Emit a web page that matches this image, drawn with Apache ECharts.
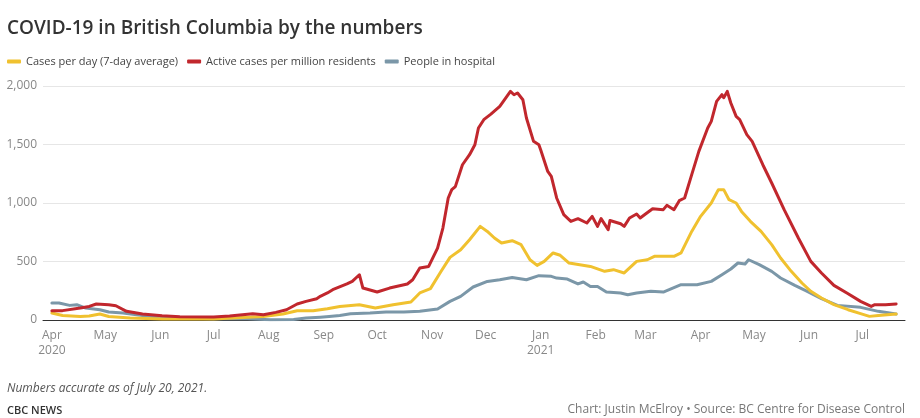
<!DOCTYPE html>
<html>
<head>
<meta charset="utf-8">
<script src="https://cdn.jsdelivr.net/npm/echarts@6/dist/echarts.min.js"></script>
<style>
html,body{margin:0;padding:0;background:#fff;}
#chart{width:920px;height:418px;}
</style>
</head>
<body>
<div id="chart"></div>
<script>
// ---- Data ----
const casesDates = ['2020-04-01','2020-04-07','2020-04-17','2020-04-22','2020-04-28','2020-05-03','2020-05-15','2020-06-02','2020-07-01','2020-07-17','2020-07-29','2020-08-09','2020-08-17','2020-08-26','2020-08-30','2020-09-03','2020-09-10','2020-09-21','2020-09-30','2020-10-10','2020-10-20','2020-10-25','2020-10-31','2020-11-06','2020-11-11','2020-11-17','2020-11-22','2020-11-28','2020-12-02','2020-12-06','2020-12-10','2020-12-16','2020-12-21','2020-12-26','2020-12-30','2021-01-03','2021-01-08','2021-01-12','2021-01-17','2021-01-23','2021-01-29','2021-02-06','2021-02-11','2021-02-17','2021-02-24','2021-03-02','2021-03-06','2021-03-17','2021-03-21','2021-03-27','2021-04-01','2021-04-07','2021-04-11','2021-04-14','2021-04-17','2021-04-21','2021-04-24','2021-04-29','2021-05-05','2021-05-11','2021-05-16','2021-05-22','2021-05-28','2021-06-02','2021-06-08','2021-06-15','2021-06-23','2021-06-30','2021-07-05','2021-07-10','2021-07-20'];
const casesValues = [60,39,30,34,51,30,17,8,8,22,30,51,79,79,88,97,116,131,102,131,154,231,268,416,535,601,686,800,757,701,658,678,644,515,467,501,573,553,487,473,458,416,430,402,501,515,544,544,573,757,886,1000,1114,1114,1028,1000,928,843,757,644,530,416,316,245,188,131,88,54,31,39,51];

const activeDates = ['2020-04-01','2020-04-07','2020-04-17','2020-04-22','2020-04-26','2020-05-03','2020-05-07','2020-05-13','2020-05-22','2020-06-02','2020-06-12','2020-07-01','2020-07-10','2020-07-23','2020-07-29','2020-08-05','2020-08-11','2020-08-17','2020-08-22','2020-08-28','2020-08-30','2020-09-03','2020-09-06','2020-09-14','2020-09-17','2020-09-21','2020-09-23','2020-10-01','2020-10-08','2020-10-18','2020-10-21','2020-10-25','2020-10-30','2020-11-04','2020-11-07','2020-11-10','2020-11-12','2020-11-14','2020-11-18','2020-11-22','2020-11-25','2020-11-27','2020-11-30','2020-12-04','2020-12-09','2020-12-13','2020-12-15','2020-12-17','2020-12-19','2020-12-22','2020-12-24','2020-12-28','2020-12-31','2021-01-01','2021-01-05','2021-01-07','2021-01-10','2021-01-14','2021-01-18','2021-01-22','2021-01-27','2021-01-30','2021-02-02','2021-02-04','2021-02-08','2021-02-09','2021-02-15','2021-02-17','2021-02-20','2021-02-24','2021-02-26','2021-03-01','2021-03-05','2021-03-11','2021-03-13','2021-03-17','2021-03-20','2021-03-23','2021-03-27','2021-03-31','2021-04-05','2021-04-07','2021-04-10','2021-04-13','2021-04-14','2021-04-16','2021-04-18','2021-04-21','2021-04-23','2021-04-27','2021-04-30','2021-05-06','2021-05-11','2021-05-18','2021-05-26','2021-06-02','2021-06-08','2021-06-15','2021-06-23','2021-06-30','2021-07-06','2021-07-08','2021-07-14','2021-07-20'];
const activeValues = [80,80,102,116,137,131,122,74,51,37,28,26,34,54,45,65,88,137,159,182,202,231,259,308,330,387,273,239,273,308,344,444,458,615,786,1043,1114,1140,1327,1413,1498,1641,1712,1760,1826,1911,1954,1925,1940,1883,1726,1527,1498,1455,1270,1227,1043,900,843,866,829,886,800,866,772,850,823,800,872,906,872,906,951,943,980,943,1020,1043,1242,1441,1641,1698,1869,1926,1900,1954,1855,1740,1712,1584,1527,1327,1171,943,701,501,402,296,225,159,116,131,131,137];

const hospitalDates = ['2020-04-01','2020-04-05','2020-04-11','2020-04-15','2020-04-20','2020-04-28','2020-05-03','2020-05-11','2020-05-22','2020-06-02','2020-07-01','2020-07-20','2020-08-02','2020-08-15','2020-08-22','2020-08-30','2020-09-04','2020-09-10','2020-09-16','2020-09-27','2020-10-06','2020-10-16','2020-10-25','2020-11-04','2020-11-11','2020-11-17','2020-11-24','2020-12-02','2020-12-09','2020-12-16','2020-12-24','2020-12-31','2021-01-07','2021-01-10','2021-01-16','2021-01-22','2021-01-25','2021-01-29','2021-02-02','2021-02-07','2021-02-15','2021-02-19','2021-02-24','2021-03-04','2021-03-11','2021-03-21','2021-03-30','2021-04-07','2021-04-13','2021-04-18','2021-04-22','2021-04-26','2021-04-28','2021-05-04','2021-05-11','2021-05-16','2021-05-24','2021-05-31','2021-06-08','2021-06-17','2021-06-30','2021-07-10','2021-07-20'];
const hospitalValues = [145,145,125,131,102,88,68,60,39,22,11,11,3,5,17,24,30,39,54,60,68,68,74,94,159,202,282,330,344,364,344,379,373,358,350,308,325,287,287,239,231,216,231,245,239,302,302,330,387,436,487,478,515,473,416,359,296,245,182,125,108,74,51];

const seriesNames = ['Cases per day (7-day average)', 'Active cases per million residents', 'People in hospital'];
const tickDates = ['2020-04-01','2020-05-01','2020-06-01','2020-07-01','2020-08-01','2020-09-01','2020-10-01','2020-11-01','2020-12-01','2021-01-01','2021-02-01','2021-03-01','2021-04-01','2021-05-01','2021-06-01','2021-07-01'];
const tickLabels = ['Apr\n2020','May','Jun','Jul','Aug','Sep','Oct','Nov','Dec','Jan\n2021','Feb','Mar','Apr','May','Jun','Jul'];
const yTicks = [0, 500, 1000, 1500, 2000];

// ---- Chart ----
const toTs = s => { const p = s.split('-').map(Number); return Date.UTC(p[0], p[1]-1, p[2]); };
const pairs = (d, v) => d.map((x, i) => [toTs(x), v[i]]);
const tickTs = tickDates.map(toTs);
const labelMap = {};
tickTs.forEach((t, i) => { labelMap[t] = tickLabels[i]; });

const FONT = '"Open Sans", "Noto Sans", sans-serif';
const colors = ['#f0c12f', '#c1272d', '#7b97a8'];

const chart = echarts.init(document.getElementById('chart'), null, {renderer: 'canvas'});
chart.setOption({
  animation: false,
  textStyle: {fontFamily: FONT},
  color: colors,
  title: [
    {text: 'COVID-19 in British Columbia by the numbers', left: 7, top: 19, padding: 0,
     textStyle: {fontFamily: FONT, fontSize: 19, fontWeight: 600, color: '#333'}},
    {text: 'Numbers accurate as of July 20, 2021.', left: 7, top: 383, padding: 0,
     textStyle: {fontFamily: FONT, fontSize: 12, fontStyle: 'italic', fontWeight: 'normal', color: '#555'}},
    {text: 'CBC NEWS', left: 7, top: 405, padding: 0,
     textStyle: {fontFamily: FONT, fontSize: 11, fontWeight: 600, color: '#333'}},
    {text: 'Chart: Justin McElroy \u2022 Source: BC Centre for Disease Control', right: 15, top: 404, padding: 0,
     textStyle: {fontFamily: FONT, fontSize: 12, fontWeight: 'normal', color: '#777'}}
  ],
  legend: {
    left: 7, top: 56, padding: 0, itemGap: 9, itemWidth: 14, itemHeight: 4, icon: 'roundRect',
    textStyle: {fontFamily: FONT, fontSize: 11, color: '#444'},
    data: seriesNames
  },
  grid: {left: 43, right: 15, top: 86, bottom: 98, containLabel: false},
  xAxis: {
    type: 'value',
    min: toTs('2020-03-27'),
    max: toTs('2021-07-25'),
    axisLine: {show: true, lineStyle: {color: '#333', width: 1}},
    axisTick: {show: false},
    splitLine: {show: false},
    axisLabel: {
      customValues: tickTs,
      showMinLabel: true, showMaxLabel: true,
      color: '#888', fontSize: 12, fontFamily: FONT, margin: 8, lineHeight: 15,
      formatter: v => labelMap[v] !== undefined ? labelMap[v] : ''
    }
  },
  yAxis: {
    type: 'value', min: yTicks[0], max: yTicks[yTicks.length-1], interval: 500,
    axisLine: {show: false}, axisTick: {show: false},
    splitLine: {lineStyle: {color: '#e6e6e6', width: 1}},
    axisLabel: {color: '#888', fontSize: 12, fontFamily: FONT, margin: 6,
      formatter: v => v.toLocaleString('en-US')}
  },
  series: [
    {name: seriesNames[2], type: 'line', data: pairs(hospitalDates, hospitalValues), showSymbol: false, symbol: 'none',
     lineStyle: {width: 3, color: colors[2], cap: 'round', join: 'round'}, itemStyle: {color: colors[2]}, z: 2},
    {name: seriesNames[0], type: 'line', data: pairs(casesDates, casesValues), showSymbol: false, symbol: 'none',
     lineStyle: {width: 3, color: colors[0], cap: 'round', join: 'round'}, itemStyle: {color: colors[0]}, z: 3},
    {name: seriesNames[1], type: 'line', data: pairs(activeDates, activeValues), showSymbol: false, symbol: 'none',
     lineStyle: {width: 3, color: colors[1], cap: 'round', join: 'round'}, itemStyle: {color: colors[1]}, z: 4}
  ]
});
</script>
</body>
</html>
